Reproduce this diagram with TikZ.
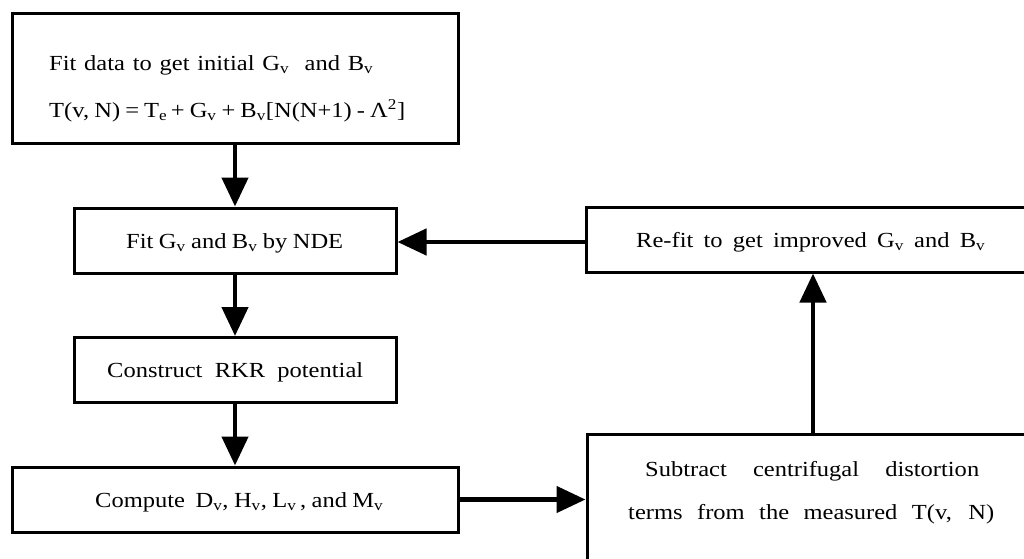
\documentclass[tikz,border=0pt]{standalone}
\usepackage{fontspec}
\setmainfont{Liberation Serif}[FakeStretch=1.14]
\usetikzlibrary{arrows.meta}
\newcommand{\sbv}{\textsubscript{v}}
\newcommand{\fitline}[2]{\makebox[#1pt][s]{#2}}
\begin{document}
\begin{tikzpicture}[x=1pt,y=-1pt,
  box/.style={draw, line width=3pt, rectangle, inner sep=0pt},
  lbl/.style={inner sep=0pt, anchor=west, text height=15pt, text depth=0pt,
              font=\fontsize{21.5}{26}\selectfont},
  flow/.style={line width=4.5pt, -{Triangle[length=29pt,width=26pt]}}]
\useasboundingbox (0,0) rectangle (1024,558);
\clip (0,0) rectangle (1024,558);
\fill[white] (0,0) rectangle (1024,558);

% boxes
\node[box, minimum width=446pt, minimum height=130pt] (b1) at (235,78) {};
\node[box, minimum width=322pt, minimum height=65pt] (b2) at (235,240.5) {};
\node[box, minimum width=322pt, minimum height=65pt] (b3) at (235,370) {};
\node[box, minimum width=446pt, minimum height=65pt] (b4) at (235,499.5) {};
\node[box, minimum width=454pt, minimum height=65pt] (b5) at (813,239.5) {};
\node[box, minimum width=452pt, minimum height=146pt] (b6) at (813,507) {};

% labels
\node[lbl] (t1a) at (49,62.5) {\fitline{324}{Fit data to get initial G\sbv\ \ and B\sbv}};
\node[lbl] (t1b) at (49,110) {\fitline{356}{T(v, N) = T\textsubscript{e}\,+ G\sbv\ + B\sbv[N(N+1) - Λ\textsuperscript{2}]}};
\node[lbl] (t2) at (126,240.5) {\fitline{217}{Fit G\sbv\ and B\sbv\ by NDE}};
\node[lbl] (t3) at (107,370) {\fitline{256}{Construct RKR potential}};
\node[lbl] (t4) at (95,500) {\fitline{288}{Compute \ D\sbv, H\sbv, L\sbv\,, and M\sbv}};
\node[lbl] (t5) at (636,239.5) {\fitline{349}{Re-fit to get improved G\sbv\ and B\sbv}};
\node[lbl] (t6a) at (645,469) {\fitline{334}{Subtract centrifugal distortion}};
\node[lbl] (t6b) at (628,512) {\fitline{366}{terms from the measured T(v, N)}};

% connectors
\draw[flow] (b1.south) -- (b2.north);
\draw[flow] (b2.south) -- (b3.north);
\draw[flow] (b3.south) -- (b4.north);
\draw[flow] (b4.east) -- (b4.east -| b6.west);
\draw[flow] (b6.north) -- (b5.south);
\draw[flow] ([yshift=-2.5pt]b5.west) -- ([yshift=-2.5pt]b5.west -| b2.east);
\end{tikzpicture}
\end{document}
